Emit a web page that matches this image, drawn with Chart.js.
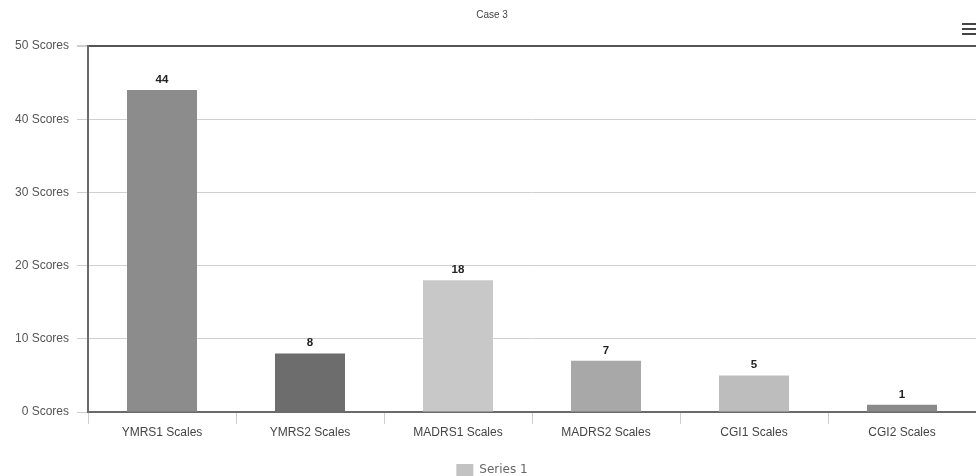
<!DOCTYPE html>
<html>
<head>
<meta charset="utf-8">
<script src="https://cdn.jsdelivr.net/npm/chart.js@4/dist/chart.umd.min.js"></script>
<style>
  html, body { margin: 0; padding: 0; background: #fff; }
  #wrap { position: relative; width: 976px; height: 476px; }
  #menu { position: absolute; left: 962px; top: 23px; width: 16px; }
  #menu div { height: 2px; background: #444; margin-bottom: 3px; }
</style>
</head>
<body>
<div id="wrap">
  <canvas id="c" width="976" height="476"></canvas>
  <div id="menu"><div></div><div></div><div></div></div>
</div>
<script>
const categories = ["YMRS1 Scales", "YMRS2 Scales", "MADRS1 Scales", "MADRS2 Scales", "CGI1 Scales", "CGI2 Scales"];
const seriesValues = [44, 8, 18, 7, 5, 1];
const seriesName = "Series 1";
const chartTitle = "Case 3";
const yTickValues = [0, 10, 20, 30, 40, 50];
const yTickSuffix = " Scores";
const barColors = ["#8c8c8c", "#6d6d6d", "#c8c8c8", "#a8a8a8", "#bdbdbd", "#8a8a8a"];
const legendColor = "#c2c2c2";

const valueLabels = {
  id: 'valueLabels',
  afterDatasetsDraw(chart) {
    const ctx = chart.ctx;
    const meta = chart.getDatasetMeta(0);
    ctx.save();
    ctx.font = "bold 11.5px 'Liberation Sans', Arial, sans-serif";
    ctx.fillStyle = "#222";
    ctx.textAlign = "center";
    ctx.textBaseline = "alphabetic";
    meta.data.forEach((bar, i) => {
      ctx.fillText(String(chart.data.datasets[0].data[i]), bar.x, bar.y - 7);
    });
    ctx.restore();
  }
};

new Chart(document.getElementById('c'), {
  type: 'bar',
  data: {
    labels: categories,
    datasets: [{
      label: seriesName,
      data: seriesValues,
      backgroundColor: barColors,
      borderWidth: 0,
      barPercentage: 0.473,
      categoryPercentage: 1.0
    }]
  },
  options: {
    responsive: false,
    animation: false,
    devicePixelRatio: 1,
    layout: { padding: { left: 8, right: 0, top: 0, bottom: 0 } },
    plugins: {
      title: {
        display: true,
        text: chartTitle,
        color: "#444",
        font: { family: "'Liberation Sans', Arial, sans-serif", size: 10, weight: 'normal' },
        padding: { top: 9, bottom: 25 }
      },
      legend: {
        display: true,
        position: 'bottom',
        maxHeight: 18,
        labels: {
          boxWidth: 17,
          boxHeight: 12,
          padding: 6,
          color: "#666",
          font: { family: "'DejaVu Sans', sans-serif", size: 12 },
          generateLabels(chart) {
            const items = Chart.defaults.plugins.legend.labels.generateLabels(chart);
            items.forEach(it => { it.fillStyle = legendColor; it.strokeStyle = legendColor; it.lineWidth = 0; });
            return items;
          }
        }
      },
      tooltip: { enabled: false }
    },
    scales: {
      x: {
        afterFit(scale) { scale.height = 46; },
        grid: {
          offset: true,
          drawOnChartArea: false,
          drawTicks: true,
          tickLength: 12,
          tickColor: "#cfcfcf"
        },
        border: { display: true, color: "#6a6a6a", width: 2 },
        ticks: {
          padding: 1,
          color: "#444",
          font: { family: "'Liberation Sans', Arial, sans-serif", size: 12 },
          maxRotation: 0
        }
      },
      y: {
        min: 0,
        max: 50,
        afterFit(scale) { scale.width = 80; },
        afterBuildTicks(scale) { scale.ticks = yTickValues.map(v => ({ value: v })); },
        grid: {
          color: (c) => c.tick && c.tick.value === 50 ? "#555" : "#d0d0d0",
          lineWidth: (c) => c.tick && c.tick.value === 50 ? 2 : 1,
          tickColor: "#cfcfcf",
          tickLength: 11,
          drawTicks: true
        },
        border: { display: true, color: "#6a6a6a", width: 2 },
        ticks: {
          padding: 8,
          color: "#555",
          font: { family: "'Liberation Sans', Arial, sans-serif", size: 12 },
          callback: (v) => v + yTickSuffix
        }
      }
    }
  },
  plugins: [valueLabels]
});
</script>
</body>
</html>
